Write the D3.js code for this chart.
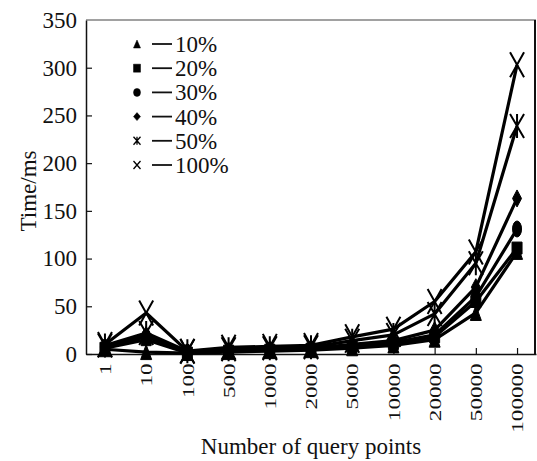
<!DOCTYPE html>
<html>
<head>
<meta charset="utf-8">
<script src="https://cdn.jsdelivr.net/npm/d3@7"></script>
<style>
  body { margin: 0; background: #fff; }
  text { font-family: "Liberation Serif", "Times New Roman", serif; fill: #111; }
</style>
</head>
<body>
<script>
// GLOBAL VARIABLES
const WIDTH = 537;
const HEIGHT = 461;
const margin = { left: 86, right: 1, top: 20, bottom: 107 };

// DATA
const queryPoints = ["1", "10", "100", "500", "1000", "2000", "5000", "10000", "20000", "50000", "100000"];
const seriesNames = ["10%", "20%", "30%", "40%", "50%", "100%"];
const markerTypes = ["triangle", "square", "circle", "diamond", "asterisk", "cross"];
const time10 = [5, 2, 1, 2, 3, 4, 6, 9, 15, 43, 107];
const time20 = [6, 15, 1, 3, 4, 5, 8, 11, 18, 55, 111];
const time30 = [7, 18, 2, 3, 4, 5, 8, 12, 20, 60, 131];
const time40 = [8, 20, 2, 4, 5, 6, 10, 14, 25, 70, 163];
const time50 = [9, 22, 3, 5, 6, 7, 14, 20, 42, 95, 239];
const time100 = [10, 43, 3, 7, 8, 9, 18, 26, 55, 107, 303];
const yTicks = [0, 50, 100, 150, 200, 250, 300, 350];

const allSeries = [time10, time20, time30, time40, time50, time100].map((vals, i) => ({
  name: seriesNames[i],
  marker: markerTypes[i],
  values: vals.map((v, j) => ({ q: queryPoints[j], t: v }))
}));

const svg = d3.select("body").append("svg").attr("width", WIDTH).attr("height", HEIGHT);

// SCALES
const x = d3.scalePoint()
  .domain(queryPoints)
  .range([margin.left, WIDTH - margin.right])
  .padding(0.46);

const y = d3.scaleLinear()
  .domain([0, 350])
  .range([HEIGHT - margin.bottom, margin.top]);

// marker path generator (w, h = width and height)
const markerPath = (type, w, h) => {
  const a = w / 2, b = h / 2;
  switch (type) {
    case "triangle": return `M0,${-b}L${a},${b}L${-a},${b}Z`;
    case "square": return `M${-a},${-b}H${a}V${b}H${-a}Z`;
    case "diamond": return `M0,${-b}L${a},0L0,${b}L${-a},0Z`;
    case "circle": return `M${-a},0A${a},${b} 0 1,0 ${a},0A${a},${b} 0 1,0 ${-a},0Z`;
    case "cross": return `M${-a},${-b}L${a},${b}M${a},${-b}L${-a},${b}`;
    case "asterisk": return `M${-a},${-b}L${a},${b}M${a},${-b}L${-a},${b}M0,${-b}V${b}`;
  }
};
const markerSize = {
  triangle: [11, 15], square: [10, 12], circle: [9, 16],
  diamond: [9, 17], asterisk: [14, 24], cross: [14, 25]
};
const isOpen = t => t === "cross" || t === "asterisk";

// AXES
const xAxis = d3.axisBottom(x).tickSizeInner(-6).tickSizeOuter(0);
const yAxis = d3.axisLeft(y).tickValues(yTicks).tickSizeInner(-6).tickSizeOuter(0).tickPadding(9);

const xG = svg.append("g")
  .attr("transform", `translate(0,${y(0)})`)
  .call(xAxis);
xG.select(".domain").attr("stroke", "#111").attr("stroke-width", 1.5);
xG.selectAll(".tick line").attr("stroke", "#111").attr("stroke-width", 1.2);
xG.selectAll("text")
  .attr("y", 0)
  .attr("x", -9)
  .attr("dy", "0.32em")
  .attr("transform", "rotate(-90) scale(1.05,0.8)")
  .style("text-anchor", "end")
  .style("font-size", "22px")
  .style("font-family", "'Liberation Serif', serif");

const yG = svg.append("g")
  .attr("transform", `translate(${margin.left},0)`)
  .call(yAxis);
yG.select(".domain").attr("stroke", "#111").attr("stroke-width", 1.5);
yG.selectAll(".tick line").attr("stroke", "#111").attr("stroke-width", 1.2);
yG.selectAll(".tick").filter(d => d === 350).select("line").remove();
yG.selectAll("text")
  .style("font-size", "23px")
  .style("font-family", "'Liberation Serif', serif");

// frame top / right
svg.append("line")
  .attr("x1", margin.left).attr("x2", WIDTH - margin.right)
  .attr("y1", y(350)).attr("y2", y(350))
  .attr("stroke", "#444").attr("stroke-width", 1.2);
svg.append("line")
  .attr("x1", WIDTH - 2).attr("x2", WIDTH - 2)
  .attr("y1", y(350)).attr("y2", y(0))
  .attr("stroke", "#111").attr("stroke-width", 2);

// LINES + MARKERS
const line = d3.line().x(d => x(d.q)).y(d => y(d.t));

const seriesG = svg.append("g")
  .selectAll("g")
  .data(allSeries)
  .enter()
  .append("g");

seriesG.append("path")
  .attr("d", d => line(d.values))
  .attr("fill", "none")
  .attr("stroke", "#000")
  .attr("stroke-width", 3.2)
  .attr("stroke-linejoin", "round");

seriesG.each(function (s) {
  const [w, h] = markerSize[s.marker];
  d3.select(this).selectAll("path.mk")
    .data(s.values)
    .enter()
    .append("path")
    .attr("class", "mk")
    .attr("transform", d => `translate(${x(d.q)},${y(d.t)})`)
    .attr("d", markerPath(s.marker, w, h))
    .attr("fill", isOpen(s.marker) ? "none" : "#000")
    .attr("stroke", "#000")
    .attr("stroke-width", isOpen(s.marker) ? 2 : 1);
});

// LEGEND
const legendY = d3.scalePoint().domain(seriesNames).range([44, 165]);
const legendG = svg.append("g")
  .selectAll("g")
  .data(allSeries)
  .enter()
  .append("g")
  .attr("transform", d => `translate(137,${legendY(d.name)})`);

legendG.append("path")
  .attr("d", d => markerPath(d.marker, 7, 8))
  .attr("fill", d => isOpen(d.marker) ? "none" : "#000")
  .attr("stroke", "#000")
  .attr("stroke-width", d => isOpen(d.marker) ? 1.3 : 0.5);

legendG.append("line")
  .attr("x1", 15).attr("x2", 35)
  .attr("y1", 0).attr("y2", 0)
  .attr("stroke", "#111").attr("stroke-width", 1.8);

legendG.append("text")
  .attr("x", 38)
  .attr("dy", "0.35em")
  .style("font-size", "23px")
  .text(d => d.name);

// AXIS TITLES
svg.append("text")
  .attr("transform", `translate(36,${(y(0) + y(350)) / 2 + 4}) rotate(-90)`)
  .attr("text-anchor", "middle")
  .style("font-size", "23px")
  .text("Time/ms");

svg.append("text")
  .attr("x", 311)
  .attr("y", 454)
  .attr("text-anchor", "middle")
  .style("font-size", "23px")
  .text("Number of query points");
</script>
</body>
</html>
